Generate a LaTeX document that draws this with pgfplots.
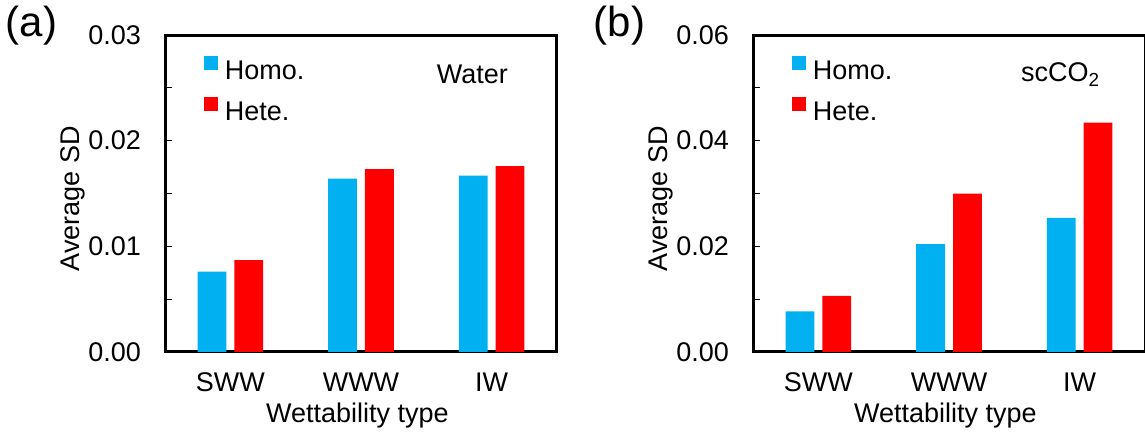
\documentclass[border=0pt]{standalone}
\usepackage{fontspec}
\setmainfont{Liberation Sans}
\usepackage{pgfplots}
\pgfplotsset{compat=1.18}
\definecolor{homo}{RGB}{0,176,240}
\definecolor{hete}{RGB}{255,0,0}
\newcommand{\fs}{\fontsize{13.5}{16.2}\selectfont}
\pgfplotsset{
  panel/.style={
    scale only axis, width=196pt, height=158.5pt, anchor=south west,
    clip=false,
    axis line style={line width=1.5pt},
    ybar, bar width=14.4pt,
    xmin=-0.5, xmax=2.5, xtick={0,1,2}, xticklabels={SWW,WWW,IW},
    x tick style={draw=none},
    ymin=0,
    ytick pos=left, tick align=inside,
    minor tick num=0,
    major tick length=3.5pt, minor tick length=3.5pt,
    y tick style={line width=0.6pt, black},
    scaled y ticks=false,
    yticklabel style={/pgf/number format/fixed, /pgf/number format/fixed zerofill,
      /pgf/number format/precision=2, xshift=-8.5pt},
    xticklabel style={yshift=-6.8pt},
    /pgf/number format/assume math mode=true,
    tick label style={font=\fs},
    label style={font=\fs},
    xlabel={Wettability type},
    xlabel style={at={(axis description cs:0.491,-0.2)}, anchor=center},
    ylabel={Average SD},
    ylabel style={at={(axis description cs:-0.235,0.484)}, anchor=center},
    legend cell align=left,
    legend style={at={(axis description cs:0.098,0.935)}, anchor=north west,
      draw=none, fill=none, font=\fs, row sep=5.5pt, inner sep=0pt},
    legend image code/.code={\fill[##1,draw=none] (0pt,0.8pt) rectangle (7pt,7.8pt);\path (8.5pt,4pt);},
  }
}
\begin{document}
\begin{tikzpicture}
\path[use as bounding box] (0,0) rectangle (572.5pt,216.5pt);
\node[font=\fontsize{21}{25}\selectfont] at (15.75pt,203.5pt) {(a)};
\node[font=\fontsize{21}{25}\selectfont] at (309.75pt,203.5pt) {(b)};
\begin{axis}[panel, at={(82.5pt,40.5pt)},
  ymax=0.03, ytick={0,0.01,0.02,0.03}, minor ytick={0.005,0.015,0.025}]
\addplot[fill=homo, draw=none, bar shift=-9.2pt] coordinates {(0,0.0076) (1,0.0164) (2,0.0167)};
\addlegendentry{Homo.}
\addplot[fill=hete, draw=none, bar shift=9.2pt] coordinates {(0,0.0087) (1,0.0173) (2,0.0176)};
\addlegendentry{Hete.}
\node[font=\fs] at (axis description cs:0.784,0.875) {Water};
\end{axis}
\begin{axis}[panel, at={(376.5pt,40.5pt)},
  ymax=0.06, ytick={0,0.02,0.04,0.06}, minor ytick={0.01,0.03,0.05}]
\addplot[fill=homo, draw=none, bar shift=-9.2pt] coordinates {(0,0.0077) (1,0.0204) (2,0.0254)};
\addlegendentry{Homo.}
\addplot[fill=hete, draw=none, bar shift=9.2pt] coordinates {(0,0.0106) (1,0.0300) (2,0.0434)};
\addlegendentry{Hete.}
\node[font=\fs] at (axis description cs:0.785,0.875) {scCO\textsubscript{2}};
\end{axis}
\end{tikzpicture}
\end{document}
